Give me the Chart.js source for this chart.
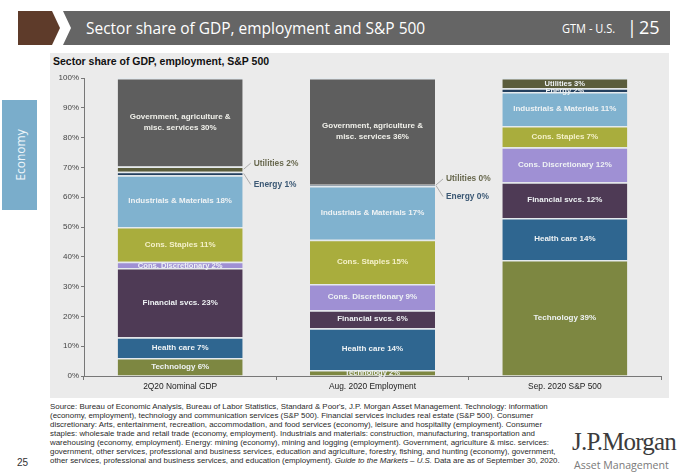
<!DOCTYPE html>
<html>
<head>
<meta charset="utf-8">
<script src="https://cdn.jsdelivr.net/npm/chart.js@4/dist/chart.umd.min.js"></script>
<style>
  body { margin: 0; background: #fff; font-family: "Liberation Sans", Arial, sans-serif; }
  #page { position: relative; width: 680px; height: 476px; overflow: hidden; background: #fff; }
  #header { position: absolute; left: 0; top: 0; }
  #title { position: absolute; left: 86px; top: 16px; font: 17px "Open Sans", sans-serif; color: #fff; transform: scaleX(0.91); transform-origin: left center; white-space: nowrap; }
  #gtm { position: absolute; left: 562px; top: 20px; font: 12px "Open Sans", sans-serif; color: #fff; transform: scaleX(0.92); transform-origin: left center; }
  #pipe { position: absolute; left: 627px; top: 15px; font: 18px "Open Sans", sans-serif; color: #fff; }
  #pageNum { position: absolute; left: 639px; top: 15px; font: 18px "Open Sans", sans-serif; color: #fff; }
  #panel { position: absolute; left: 50px; top: 53px; width: 619px; height: 345px; background: #ebebeb; }
  #subtitle { position: absolute; left: 53px; top: 55px; font: bold 10.5px "Liberation Sans", Arial, sans-serif; color: #111; }
  #tab { position: absolute; left: 2px; top: 100px; width: 35px; height: 110px; background: #7aadcb; }
  #tab span { position: absolute; left: 50%; top: 50%; transform: translate(-50%, -50%) rotate(-90deg); font: 12px "Open Sans", sans-serif; color: #eef5fa; white-space: nowrap; }
  #chartBox { position: absolute; left: 50px; top: 70px; }
  #source { position: absolute; left: 50px; top: 402px; font: 7.9px "Liberation Sans", Arial, sans-serif; line-height: 9px; color: #2a2a2a; white-space: nowrap; }
  #foot25 { position: absolute; left: 17px; top: 457px; font: 10px "Liberation Sans", Arial, sans-serif; color: #333; }
  #logo1 { position: absolute; left: 572px; top: 428px; font: 25px "Liberation Serif", "DejaVu Serif", serif; color: #3c3c3c; letter-spacing: -0.8px; }
  #logo2 { position: absolute; left: 574px; top: 458px; font: 10.6px "Open Sans", sans-serif; color: #7a7a7a; }
</style>
</head>
<body>
<div id="page">
  <svg id="header" width="680" height="50">
    <polygon points="18,11 52,11 60,28 52,45 18,45" fill="#5e3b2a"/>
    <polygon points="63,11 670,11 670,45 63,45 71,28" fill="#656565"/>
  </svg>
  <div id="title">Sector share of GDP, employment and S&amp;P 500</div>
  <div id="gtm">GTM - U.S.</div>
  <div id="pipe">|</div>
  <div id="pageNum">25</div>
  <div id="tab"><span>Economy</span></div>
  <div id="panel"></div>
  <div id="subtitle">Sector share of GDP, employment, S&amp;P 500</div>
  <div id="chartBox"><canvas id="sectorChart" width="619" height="326"></canvas></div>
  <div id="source">Source: Bureau of Economic Analysis, Bureau of Labor Statistics, Standard &amp; Poor's, J.P. Morgan Asset Management. Technology: information<br>(economy, employment), technology and communication services (S&amp;P 500). Financial services includes real estate (S&amp;P 500). Consumer<br>discretionary: Arts, entertainment, recreation, accommodation, and food services (economy), leisure  and hospitality (employment). Consumer<br>staples: wholesale trade and retail trade (economy, employment). Industrials and materials: construction, manufacturing, transportation and<br>warehousing (economy, employment). Energy:  mining (economy), mining and logging (employment). Government, agriculture &amp; misc. services:<br>government, other services, professional and business services, education and agriculture, forestry, fishing, and hunting (economy), government,<br>other services, professional and business services, and education (employment). <i>Guide to the Markets – U.S.</i> Data are as of September 30, 2020.</div>
  <div id="foot25">25</div>
  <div id="logo1">J.P.Morgan</div>
  <div id="logo2">Asset Management</div>
</div>

<script>
// Categories (x axis)
const CATEGORIES = ['2Q20 Nominal GDP', 'Aug. 2020 Employment', 'Sep. 2020 S&P 500'];

// Sectors, bottom to top of each stack
const SECTORS = ['Technology', 'Health care', 'Financial svcs.', 'Cons. Discretionary', 'Cons. Staples',
    'Industrials & Materials', 'Energy', 'Utilities', 'Government, agriculture & misc. services'];
const SECTOR_COLORS = ['#7d8741', '#2f6690', '#4e3a55', '#9f90d4', '#a9ad3d',
    '#80b2cf', '#233f5e', '#5b5d3c', '#5e5e5e'];

// Segment heights (%)
const GDP_SHARE = [6, 7, 23.2, 2.1, 11.7, 17.4, 1.1, 1.8, 29.7];
const EMP_SHARE = [2, 14, 6.1, 8.8, 14.8, 18.1, 0.2, 0.2, 35.8];
const SP_SHARE = [38.9, 14.1, 12, 11.8, 7.1, 11.4, 1.3, 3.4, 0];

// Percent figures printed on the chart
const GDP_LABEL = [6, 7, 23, 2, 11, 18, 1, 2, 30];
const EMP_LABEL = [2, 14, 6, 9, 15, 17, 0, 0, 36];
const SP_LABEL = [39, 14, 12, 12, 7, 11, 2, 3, 0];

// Y axis ticks
const Y_TICKS = [0, 10, 20, 30, 40, 50, 60, 70, 80, 90, 100];

const ENERGY = 6, UTILITIES = 7, GOV = 8;
const SHARES = [GDP_SHARE, EMP_SHARE, SP_SHARE];
const LABELS = [GDP_LABEL, EMP_LABEL, SP_LABEL];
const FONT = '"Liberation Sans", Arial, sans-serif';

const datasets = SECTORS.map((name, i) => ({
    label: name,
    data: SHARES.map(s => s[i]),
    backgroundColor: SECTOR_COLORS[i],
    borderColor: '#e4eaee',
    borderWidth: { top: 1.5 },
    borderSkipped: false,
    barPercentage: 0.65,
    categoryPercentage: 1
}));

// Draw the text inside each segment, plus callouts for the thin ones
const segmentLabels = {
    id: 'segmentLabels',
    afterDatasetsDraw(chart) {
        const ctx = chart.ctx;
        ctx.save();
        ctx.textAlign = 'center';
        ctx.textBaseline = 'middle';
        chart.data.datasets.forEach((ds, i) => {
            const meta = chart.getDatasetMeta(i);
            meta.data.forEach((bar, j) => {
                const pct = LABELS[j][i];
                const cy = (bar.y + bar.base) / 2;
                if (i === GOV) {
                    if (SHARES[j][i] <= 0) return;
                    ctx.font = 'bold 8px ' + FONT;
                    ctx.fillStyle = '#f0f0ea';
                    ctx.fillText('Government, agriculture &', bar.x, cy - 5.5);
                    ctx.fillText('misc. services ' + pct + '%', bar.x, cy + 5.5);
                    return;
                }
                if ((i === ENERGY || i === UTILITIES) && j < 2) {
                    // callout to the right of the bar
                    const xr = bar.x + bar.width / 2;
                    const ly = i === UTILITIES ? cy - 6 : cy + 11;
                    ctx.strokeStyle = '#9a9a9a';
                    ctx.lineWidth = 0.8;
                    ctx.beginPath();
                    ctx.moveTo(xr + 1, cy);
                    ctx.lineTo(xr + 8, ly);
                    ctx.stroke();
                    ctx.font = 'bold 8.4px ' + FONT;
                    ctx.fillStyle = i === UTILITIES ? '#6a6a50' : '#3b5874';
                    ctx.textAlign = 'left';
                    ctx.fillText(SECTORS[i] + ' ' + pct + '%', xr + 11, ly);
                    ctx.textAlign = 'center';
                    return;
                }
                const small = SHARES[j][i] < 4;
                ctx.font = 'bold ' + (small ? 7.6 : 8) + 'px ' + FONT;
                ctx.fillStyle = i === 4 ? '#f4f0c8' : '#eef2f4';
                ctx.fillText(SECTORS[i] + ' ' + pct + '%', bar.x, cy + (small ? 0.5 : 0));
            });
        });
        ctx.restore();
    }
};

new Chart(document.getElementById('sectorChart'), {
    type: 'bar',
    data: { labels: CATEGORIES, datasets: datasets },
    options: {
        responsive: false,
        animation: false,
        devicePixelRatio: 1,
        layout: { padding: { top: 8, right: 8, left: 0, bottom: 0 } },
        plugins: { legend: { display: false }, tooltip: { enabled: false } },
        scales: {
            x: {
                stacked: true,
                grid: { offset: true, drawOnChartArea: false, tickLength: 4, color: '#777' },
                border: { color: '#777' },
                ticks: { color: '#222', font: { size: 8.4, family: FONT }, padding: 2 },
                afterFit: s => { s.height = 20; }
            },
            y: {
                stacked: true,
                min: 0,
                max: 100,
                afterBuildTicks: s => { s.ticks = Y_TICKS.map(v => ({ value: v })); },
                grid: { drawOnChartArea: false, tickLength: 3, color: '#777' },
                border: { color: '#777' },
                ticks: { color: '#444', font: { size: 8, family: FONT }, padding: 2,
                    callback: v => v + '%' },
                afterFit: s => { s.width = 34; }
            }
        }
    },
    plugins: [segmentLabels]
});
</script>
</body>
</html>
